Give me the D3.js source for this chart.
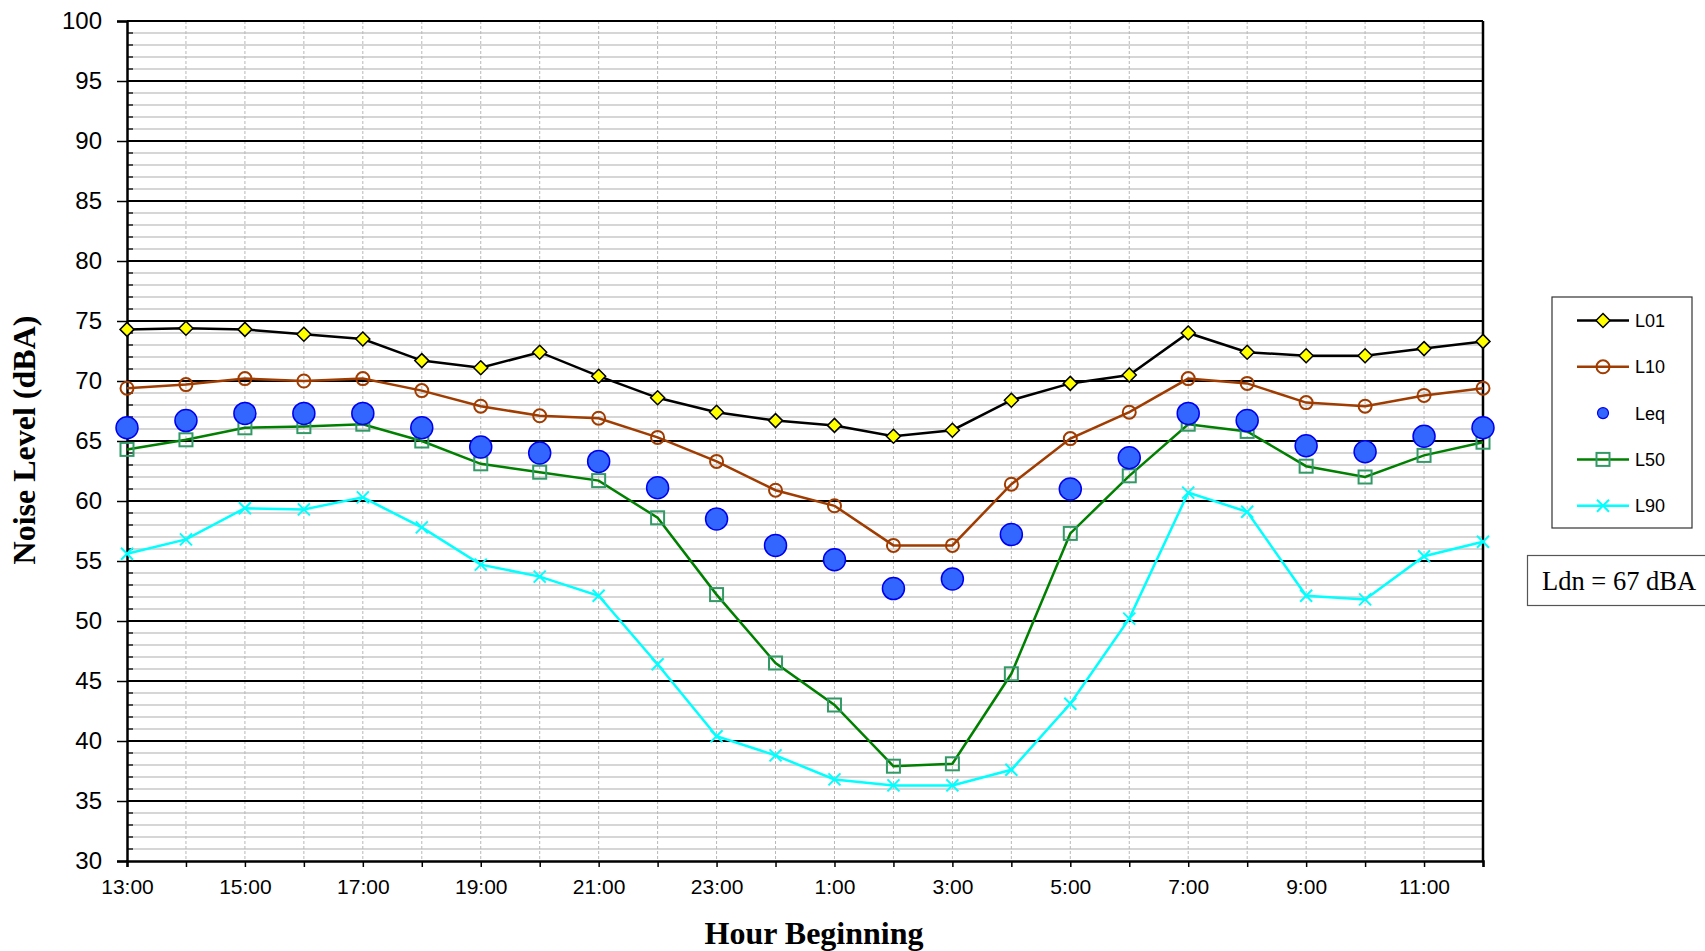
<!DOCTYPE html>
<html>
<head>
<meta charset="utf-8">
<script src="https://cdn.jsdelivr.net/npm/d3@7"></script>
<style>
  html, body { margin: 0; padding: 0; background: #fff; }
  svg { display: block; }
</style>
</head>
<body>
<svg id="chart" width="1705" height="951"></svg>
<script>
// ---- data ----
const categories = ["13:00","14:00","15:00","16:00","17:00","18:00","19:00","20:00","21:00","22:00","23:00","0:00",
                    "1:00","2:00","3:00","4:00","5:00","6:00","7:00","8:00","9:00","10:00","11:00","12:00"];
const L01 = [74.3,74.4,74.3,73.9,73.5,71.7,71.1,72.4,70.4,68.6,67.4,66.7,66.3,65.4,65.9,68.4,69.8,70.5,74.0,72.4,72.1,72.1,72.7,73.3];
const L10 = [69.4,69.7,70.2,70.0,70.2,69.2,67.9,67.1,66.9,65.3,63.3,60.9,59.6,56.3,56.3,61.4,65.2,67.4,70.2,69.8,68.2,67.9,68.8,69.4];
const Leq = [66.1,66.7,67.3,67.3,67.3,66.1,64.5,64.0,63.3,61.1,58.5,56.3,55.1,52.7,53.5,57.2,61.0,63.6,67.3,66.7,64.6,64.1,65.4,66.1];
const L50 = [64.3,65.1,66.1,66.2,66.4,65.0,63.1,62.4,61.7,58.6,52.2,46.5,43.0,37.9,38.1,45.6,57.3,62.1,66.4,65.8,62.9,62.0,63.8,64.9];
const L90 = [55.6,56.8,59.4,59.3,60.3,57.8,54.7,53.7,52.1,46.4,40.4,38.8,36.8,36.3,36.3,37.6,43.1,50.2,60.7,59.1,52.1,51.8,55.4,56.6];
const seriesNames = ["L01","L10","Leq","L50","L90"];
const yTicks = [30,35,40,45,50,55,60,65,70,75,80,85,90,95,100];
const yTitle = "Noise Level (dBA)";
const xTitle = "Hour Beginning";
const ldnText = "Ldn = 67 dBA";

// ---- layout ----
const pL = 127, pR = 1483, pT = 21, pB = 861;
const svg = d3.select("#chart");

const x = d3.scalePoint().domain(categories).range([pL, pR]).padding(0);
const y = d3.scaleLinear().domain([30, 100]).range([pB, pT]);

// minor horizontal gridlines
const minorVals = d3.range(31, 100).filter(v => v % 5 !== 0);
svg.append("g").selectAll("line").data(minorVals).join("line")
  .attr("x1", pL).attr("x2", pR)
  .attr("y1", d => y(d)).attr("y2", d => y(d))
  .attr("stroke", "#c8c8c8").attr("stroke-width", 1.5);

// vertical dashed gridlines
svg.append("g").selectAll("line").data(categories.slice(1, -1)).join("line")
  .attr("x1", d => x(d)).attr("x2", d => x(d))
  .attr("y1", pT).attr("y2", pB)
  .attr("stroke", "#b8b8b8").attr("stroke-width", 1).attr("stroke-dasharray", "3,2");

// major horizontal gridlines
svg.append("g").selectAll("line").data(yTicks.filter(v => v > 30)).join("line")
  .attr("x1", pL).attr("x2", pR)
  .attr("y1", d => y(d)).attr("y2", d => y(d))
  .attr("stroke", "#000").attr("stroke-width", 2.2);

// right border
svg.append("line").attr("x1", pR).attr("x2", pR).attr("y1", pT).attr("y2", pB)
  .attr("stroke", "#000").attr("stroke-width", 2.5);

// minor inside ticks on y axis
svg.append("g").selectAll("line").data(minorVals).join("line")
  .attr("x1", pL).attr("x2", pL + 6)
  .attr("y1", d => y(d)).attr("y2", d => y(d))
  .attr("stroke", "#000").attr("stroke-width", 1.3);

// y axis
const yAxis = svg.append("g").attr("transform", `translate(${pL},0)`)
  .call(d3.axisLeft(y).tickValues(yTicks).tickSize(10).tickPadding(15).tickFormat(d3.format("d")));
yAxis.select(".domain").attr("stroke", "#000").attr("stroke-width", 2.5);
yAxis.selectAll(".tick line").attr("stroke", "#000").attr("stroke-width", 1.5);
yAxis.selectAll("text").attr("font-family", "'Liberation Sans', Arial, sans-serif")
  .attr("font-size", 24).attr("fill", "#000");

// x axis
const xAxis = svg.append("g").attr("transform", `translate(0,${pB})`)
  .call(d3.axisBottom(x).tickSize(6).tickPadding(12).tickFormat((d, i) => i % 2 === 0 ? d : ""));
xAxis.select(".domain").attr("stroke", "#000").attr("stroke-width", 2.5);
xAxis.selectAll(".tick line").attr("stroke", "#000").attr("stroke-width", 1.5);
xAxis.selectAll("text").attr("font-family", "'Liberation Sans', Arial, sans-serif")
  .attr("font-size", 21).attr("fill", "#000");

// axis titles
svg.append("text").attr("x", 814).attr("y", 944)
  .attr("text-anchor", "middle").attr("font-family", "'Liberation Serif', 'Times New Roman', serif")
  .attr("font-weight", "bold").attr("font-size", 32).text(xTitle);
svg.append("text").attr("transform", "translate(35,440) rotate(-90)")
  .attr("text-anchor", "middle").attr("font-family", "'Liberation Serif', 'Times New Roman', serif")
  .attr("font-weight", "bold").attr("font-size", 32).text(yTitle);

// ---- series ----
const line = d3.line().x((d, i) => x(categories[i])).y(d => y(d));
const styles = {
  L01: { color: "#000000", data: L01 },
  L10: { color: "#a03c00", data: L10 },
  Leq: { color: null, data: Leq },
  L50: { color: "#008000", data: L50 },
  L90: { color: "#00ffff", data: L90 }
};

function drawMarker(g, name, cx, cy) {
  if (name === "L01") {
    const s = 7;
    g.append("path").attr("d", `M${cx},${cy - s}L${cx + s},${cy}L${cx},${cy + s}L${cx - s},${cy}Z`)
      .attr("fill", "#ffff00").attr("stroke", "#000").attr("stroke-width", 1.5);
  } else if (name === "L10") {
    g.append("circle").attr("cx", cx).attr("cy", cy).attr("r", 6.5)
      .attr("fill", "none").attr("stroke", "#a03c00").attr("stroke-width", 2);
  } else if (name === "Leq") {
    g.append("circle").attr("cx", cx).attr("cy", cy).attr("r", 11)
      .attr("fill", "#3366ff").attr("stroke", "#0000ee").attr("stroke-width", 1.5);
  } else if (name === "L50") {
    const s = 6.5;
    g.append("rect").attr("x", cx - s).attr("y", cy - s).attr("width", 2 * s).attr("height", 2 * s)
      .attr("fill", "none").attr("stroke", "#339966").attr("stroke-width", 2);
  } else if (name === "L90") {
    const s = 6;
    g.append("path").attr("d", `M${cx - s},${cy - s}L${cx + s},${cy + s}M${cx - s},${cy + s}L${cx + s},${cy - s}`)
      .attr("stroke", "#00ffff").attr("stroke-width", 2);
  }
}

["L90", "L50", "L10", "L01"].forEach(name => {
  svg.append("path").datum(styles[name].data).attr("d", line)
    .attr("fill", "none").attr("stroke", styles[name].color).attr("stroke-width", 2.5);
});
["L90", "L50", "Leq", "L10", "L01"].forEach(name => {
  const g = svg.append("g");
  styles[name].data.forEach((v, i) => drawMarker(g, name, x(categories[i]), y(v)));
});

// ---- legend ----
const lg = svg.append("g");
lg.append("rect").attr("x", 1552).attr("y", 297).attr("width", 140).attr("height", 231)
  .attr("fill", "#fff").attr("stroke", "#333").attr("stroke-width", 1.2);
seriesNames.forEach((name, i) => {
  const cy = 320.5 + i * 46.3;
  if (name !== "Leq") {
    lg.append("line").attr("x1", 1577).attr("x2", 1629).attr("y1", cy).attr("y2", cy)
      .attr("stroke", styles[name].color).attr("stroke-width", 2.5);
  }
  if (name === "Leq") {
    lg.append("circle").attr("cx", 1603).attr("cy", cy).attr("r", 5.5)
      .attr("fill", "#3366ff").attr("stroke", "#0000ee").attr("stroke-width", 1.2);
  } else {
    drawMarker(lg, name, 1603, cy);
  }
  lg.append("text").attr("x", 1635).attr("y", cy + 6.5)
    .attr("font-family", "'Liberation Sans', Arial, sans-serif").attr("font-size", 18)
    .attr("fill", "#000").text(name);
});

// ---- Ldn box ----
svg.append("rect").attr("x", 1527.5).attr("y", 555.5).attr("width", 190).attr("height", 50)
  .attr("fill", "#fff").attr("stroke", "#555").attr("stroke-width", 1.2);
svg.append("text").attr("x", 1542).attr("y", 590)
  .attr("font-family", "'Liberation Serif', 'Times New Roman', serif").attr("font-size", 26.5)
  .attr("fill", "#000").text(ldnText);
</script>
</body>
</html>
